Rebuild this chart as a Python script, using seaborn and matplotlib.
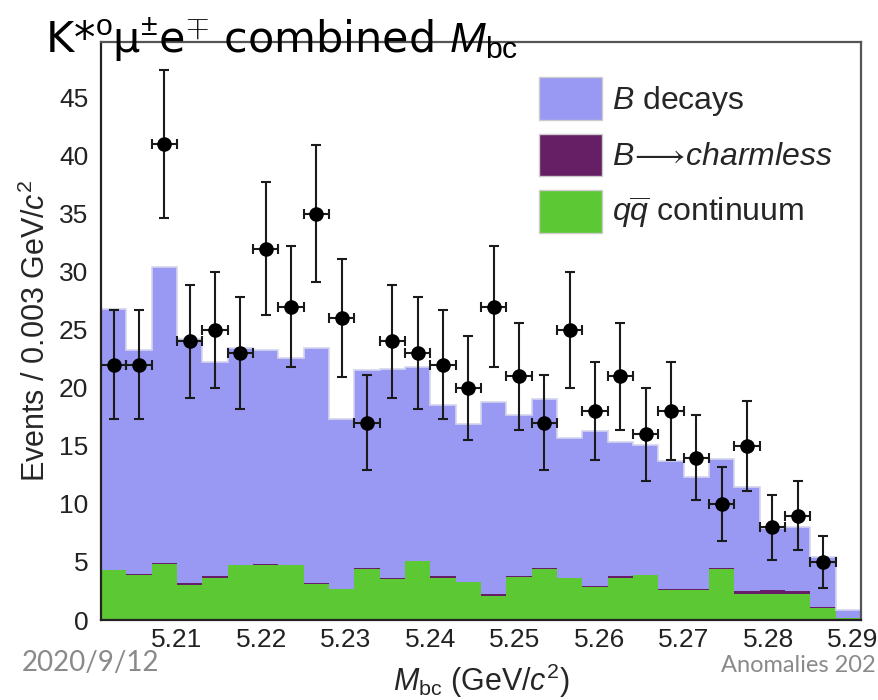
import numpy as np
import pandas as pd
import matplotlib
matplotlib.use("Agg")
import matplotlib.pyplot as plt
from matplotlib.patches import Patch
from matplotlib.ticker import MultipleLocator
import seaborn as sns

sns.set_theme(style="white")
plt.rcParams["font.family"] = ["Liberation Sans", "DejaVu Sans"]
plt.rcParams["mathtext.fontset"] = "custom"
plt.rcParams["mathtext.rm"] = "Liberation Sans"
plt.rcParams["mathtext.it"] = "Liberation Sans:italic"

# binning: 30 bins of 0.003 GeV/c^2
x_lo = 5.201
bin_w = 0.003
edges = x_lo + bin_w * np.arange(31)
centers = edges[:-1] + bin_w / 2

# stacked MC components
b_decays = [22.45, 19.35, 25.5, 21.0, 18.45, 18.65, 18.45, 17.85, 20.25, 14.6,
            17.05, 17.95, 16.7, 14.75, 13.6, 16.6, 13.95, 14.55, 12.05, 13.4,
            11.55, 11.2, 11.0, 9.6, 9.45, 9.03, 5.33, 5.53, 4.3, 0.75]
charmless = [0.05, 0.05, 0.05, 0.2, 0.15, 0.05, 0.1, 0.05, 0.05, 0.05,
             0.05, 0.15, 0.05, 0.1, 0.05, 0.1, 0.05, 0.05, 0.05, 0.05,
             0.15, 0.05, 0.1, 0.1, 0.05, 0.2, 0.3, 0.2, 0.05, 0.0]
continuum = [4.3, 3.9, 4.85, 3.0, 3.6, 4.7, 4.75, 4.7, 3.1, 2.65,
             4.4, 3.5, 5.05, 3.65, 3.25, 2.1, 3.7, 4.4, 3.6, 2.85,
             3.6, 3.85, 2.6, 2.6, 4.4, 2.27, 2.27, 2.27, 1.05, 0.15]

# data counts and errors
counts = [22, 22, 41, 24, 25, 23, 32, 27, 35, 26,
          17, 24, 23, 22, 20, 27, 21, 17, 25, 18,
          21, 16, 18, 14, 10, 15, 8, 9, 5, 0]
errors = [4.7, 4.7, 6.4, 4.9, 5.0, 4.8, 5.7, 5.2, 5.9, 5.1,
          4.1, 4.9, 4.8, 4.7, 4.5, 5.2, 4.6, 4.1, 5.0, 4.2,
          4.6, 4.0, 4.2, 3.7, 3.2, 3.9, 2.8, 3.0, 2.2, 0.0]

c_bdec = "#9999f3"
c_charm = "#661e64"
c_cont = "#5cc834"

labels = ["bdec", "charm", "cont"]
mc = pd.DataFrame({
    "x": np.tile(centers, 3),
    "w": b_decays + charmless + continuum,
    "comp": np.repeat(labels, 30),
})

fig = plt.figure(figsize=(8.79, 7.0), dpi=100)
ax = fig.add_axes([101 / 879, 80 / 700, 760 / 879, 578 / 700])

sns.histplot(data=mc, x="x", weights="w", hue="comp", hue_order=labels,
             bins=30, binrange=(edges[0], edges[-1]), multiple="stack",
             element="step", alpha=1,
             palette={"bdec": c_bdec, "charm": c_charm, "cont": c_cont},
             linewidth=0, legend=False, ax=ax)

total = np.array(b_decays) + np.array(charmless) + np.array(continuum)
ax.stairs(total, edges, color="#d4d4ee", lw=1.2)

data = pd.DataFrame({"x": centers, "n": counts, "err": errors})
data = data[data["n"] > 0]
ax.errorbar(data["x"], data["n"], yerr=data["err"], xerr=bin_w / 2,
            fmt="none", ecolor="#1a1a1a", elinewidth=1.5, capsize=3.5,
            capthick=1.5, zorder=4)
sns.scatterplot(data=data, x="x", y="n", color="black", s=110,
                edgecolor="black", linewidth=0, zorder=5, ax=ax)

ax.set_xlim(x_lo, edges[-1])
ax.set_ylim(0, 49.8)
ax.xaxis.set_minor_locator(MultipleLocator(0.002))
ax.yaxis.set_major_locator(MultipleLocator(5))
ax.yaxis.set_minor_locator(MultipleLocator(1))
ax.set_xticks(np.arange(5.21, 5.2905, 0.01))
ax.set_xticklabels([f"{v:.2f}" for v in np.arange(5.21, 5.2905, 0.01)])
ax.tick_params(axis="both", which="both", direction="in", colors="#222222",
               labelsize=19, top=False, right=False)
ax.tick_params(axis="x", which="major", length=13, width=1.3, pad=6)
ax.tick_params(axis="x", which="minor", length=7, width=1.2)
ax.tick_params(axis="y", which="major", length=17, width=1.3, pad=9)
ax.tick_params(axis="y", which="minor", length=8, width=1.2)
for s in ax.spines.values():
    s.set_color("#555555")
    s.set_linewidth(1.6)
ax.spines["left"].set_color("#222222")
ax.spines["bottom"].set_color("#222222")

ax.set_xlabel(r"$M_{\rm bc}$ (GeV/$c^2$)", fontsize=22)
ax.set_ylabel(r"Events / 0.003 GeV/$c^2$", fontsize=22)
ax.xaxis.set_label_coords(0.5, -0.073)
ax.yaxis.set_label_coords(-0.064, 0.5)

handles = [Patch(facecolor=c_bdec, edgecolor="#cccccc"),
           Patch(facecolor=c_charm, edgecolor="#cccccc"),
           Patch(facecolor=c_cont, edgecolor="#cccccc")]
ax.legend(handles, [r"$B$ decays", r"$B\!\longrightarrow\!charmless$",
                    r"$q\overline{q}$ continuum"],
          loc="upper left", bbox_to_anchor=(0.576, 0.939), frameon=False,
          fontsize=23, handlelength=1.98, handleheight=1.68, labelspacing=0.43,
          handletextpad=0.32, borderpad=0, borderaxespad=0)

fig.text(45 / 879, 1 - 53 / 700,
         r"K*$^{\rm o}$μ$^{\pm}$e$^{\mp}$ combined $M_{\rm bc}$",
         fontsize=31, color="black", va="baseline", family=["DejaVu Sans"])
fig.text(22 / 879, 1 - 671 / 700, "2020/9/12", fontsize=20, color="#8a8a8a",
         va="baseline", family=["Lato", "DejaVu Sans"])
fig.text(876 / 879, 1 - 672 / 700, "Anomalies 202", fontsize=17, color="#8a8a8a",
         va="baseline", ha="right", family=["Lato", "DejaVu Sans"])

fig.savefig("out.png", dpi=100)
